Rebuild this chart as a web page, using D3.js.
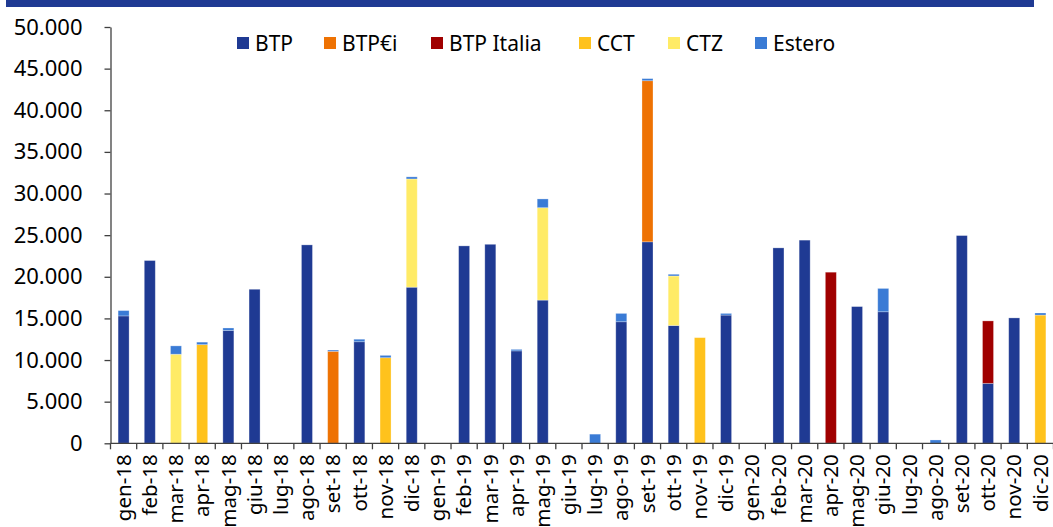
<!DOCTYPE html>
<html>
<head>
<meta charset="utf-8">
<script src="https://cdn.jsdelivr.net/npm/d3@7"></script>
<style>
    html, body { margin: 0; padding: 0; background: #fff; }
    svg { display: block; }
    text { font-family: Tahoma, "Noto Sans", sans-serif; fill: #000; }
</style>
</head>
<body>
<div id="chart"></div>
<script>
const months = [
    'gen-18', 'feb-18', 'mar-18', 'apr-18', 'mag-18', 'giu-18', 'lug-18', 'ago-18', 'set-18', 'ott-18', 'nov-18', 'dic-18',
    'gen-19', 'feb-19', 'mar-19', 'apr-19', 'mag-19', 'giu-19', 'lug-19', 'ago-19', 'set-19', 'ott-19', 'nov-19', 'dic-19',
    'gen-20', 'feb-20', 'mar-20', 'apr-20', 'mag-20', 'giu-20', 'lug-20', 'ago-20', 'set-20', 'ott-20', 'nov-20', 'dic-20',
];

const seriesNames = ['BTP', 'BTP€i', 'BTP Italia', 'CCT', 'CTZ', 'Estero'];
const seriesColors = ['#1f3a93', '#ee7203', '#a00000', '#ffc21c', '#ffeb66', '#3a7bd5'];

const btp = [
    15300, 21950, 0, 0, 13550, 18500, 0, 23830, 0, 12200, 0, 18750,
    0, 23710, 23900, 11100, 17200, 0, 0, 14600, 24200, 14150, 0, 15400,
    0, 23470, 24400, 0, 16420, 15800, 0, 0, 24950, 7200, 15060, 0,
];
const btpEi = [
    0, 0, 0, 0, 0, 0, 0, 0, 11050, 0, 0, 0,
    0, 0, 0, 0, 0, 0, 0, 0, 19350, 0, 0, 0,
    0, 0, 0, 0, 0, 0, 0, 0, 0, 0, 0, 0,
];
const btpItalia = [
    0, 0, 0, 0, 0, 0, 0, 0, 0, 0, 0, 0,
    0, 0, 0, 0, 0, 0, 0, 0, 0, 0, 0, 0,
    0, 0, 0, 20550, 0, 0, 0, 0, 0, 7500, 0, 0,
];
const cct = [
    0, 0, 0, 11850, 0, 0, 0, 0, 0, 0, 10280, 0,
    0, 0, 0, 0, 0, 0, 0, 0, 0, 0, 12690, 0,
    0, 0, 0, 0, 0, 0, 0, 0, 0, 0, 0, 15400,
];
const ctz = [
    0, 0, 10700, 0, 0, 0, 0, 0, 0, 0, 0, 13000,
    0, 0, 0, 0, 11100, 0, 0, 0, 0, 5950, 0, 0,
    0, 0, 0, 0, 0, 0, 0, 0, 0, 0, 0, 0,
];
const estero = [
    640, 0, 1000, 300, 300, 0, 0, 0, 150, 300, 280, 250,
    0, 0, 0, 180, 1050, 0, 1100, 1000, 250, 200, 0, 200,
    0, 0, 0, 0, 0, 2800, 0, 400, 0, 0, 0, 250,
];

const yTicks = [0, 5000, 10000, 15000, 20000, 25000, 30000, 35000, 40000, 45000, 50000];

// layout
const W = 1053, H = 527;
const plot = { left: 110.5, right: 1053.5, top: 27, bottom: 443.3 };
const barRatio = 0.42;
const legendX = [237, 324, 431, 579, 668, 755];

const itLocale = d3.formatLocale({ decimal: ',', thousands: '.', grouping: [3], currency: ['€', ''] });
const fmt = itLocale.format(',d');

const seriesValues = [btp, btpEi, btpItalia, cct, ctz, estero];
const rows = months.map((m, i) => {
    const row = { month: m };
    seriesNames.forEach((s, k) => { row[s] = seriesValues[k][i]; });
    return row;
});

const stacked = d3.stack().keys(seriesNames)(rows);

const svg = d3.select('#chart').append('svg')
    .attr('width', W)
    .attr('height', H);

// header band (title cut off at top)
svg.append('rect')
    .attr('x', 6).attr('y', 0)
    .attr('width', 1028).attr('height', 7)
    .attr('fill', '#1f3a93');

const xScale = d3.scaleBand()
    .domain(months)
    .range([plot.left, plot.right])
    .padding(0);
const yScale = d3.scaleLinear()
    .domain([0, 50000])
    .range([plot.bottom, plot.top]);

const bw = xScale.bandwidth() * barRatio;
const off = (xScale.bandwidth() - bw) / 2;

// bars
svg.append('g')
    .selectAll('g')
    .data(stacked)
    .join('g')
    .attr('fill', (d, i) => seriesColors[i])
    .selectAll('rect')
    .data(d => d.filter(p => p[1] - p[0] > 0))
    .join('rect')
    .attr('x', d => xScale(d.data.month) + off)
    .attr('width', bw)
    .attr('y', d => yScale(d[1]))
    .attr('height', d => yScale(d[0]) - yScale(d[1]))
    .attr('stroke', '#ffffff')
    .attr('stroke-opacity', 0.35)
    .attr('stroke-width', 0.8);

// y axis
const yAxis = d3.axisLeft(yScale)
    .tickValues(yTicks)
    .tickFormat(fmt)
    .tickSize(6)
    .tickSizeOuter(0)
    .tickPadding(22);
const yAxisG = svg.append('g')
    .attr('transform', `translate(${plot.left},0)`)
    .call(yAxis);
yAxisG.select('.domain').attr('stroke', '#404040').attr('stroke-width', 1.3);
yAxisG.selectAll('.tick line').attr('stroke', '#404040').attr('stroke-width', 1.3);
yAxisG.selectAll('.tick text')
    .attr('font-size', 22)
    .attr('font-family', 'Tahoma, "Noto Sans", sans-serif')
    .attr('fill', '#000');

// x axis (ticks between categories)
const xAxisG = svg.append('g');
xAxisG.append('line')
    .attr('x1', plot.left).attr('x2', plot.right)
    .attr('y1', plot.bottom).attr('y2', plot.bottom)
    .attr('stroke', '#404040').attr('stroke-width', 1.3);
xAxisG.selectAll('.xtick')
    .data(months.concat(['_end']))
    .join('line')
    .attr('class', 'xtick')
    .attr('x1', d => d === '_end' ? plot.right : xScale(d))
    .attr('x2', d => d === '_end' ? plot.right : xScale(d))
    .attr('y1', plot.bottom)
    .attr('y2', plot.bottom + 6)
    .attr('stroke', '#404040').attr('stroke-width', 1.3);
xAxisG.selectAll('.xlabel')
    .data(months)
    .join('text')
    .attr('class', 'xlabel')
    .attr('font-size', 20.5)
    .attr('text-anchor', 'end')
    .attr('transform', d => `translate(${xScale(d) + xScale.bandwidth() / 2},${plot.bottom + 11}) rotate(-90)`)
    .attr('dy', '0.35em')
    .text(d => d);

// legend
const legend = svg.append('g')
    .selectAll('g')
    .data(seriesNames)
    .join('g')
    .attr('transform', (d, i) => `translate(${legendX[i]},37)`);
legend.append('rect')
    .attr('width', 12).attr('height', 12)
    .attr('fill', (d, i) => seriesColors[i]);
legend.append('text')
    .attr('x', 18)
    .attr('y', 13.5)
    .attr('font-size', 21)
    .text(d => d);
</script>
</body>
</html>
